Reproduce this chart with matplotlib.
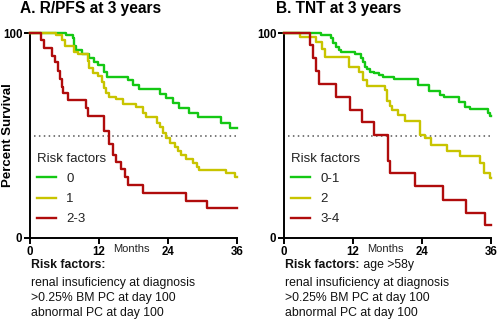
import numpy as np
import matplotlib
matplotlib.use("Agg")
import matplotlib.pyplot as plt

plt.rcParams['font.family'] = ['Liberation Sans', 'DejaVu Sans']

# Kaplan-Meier step points: (month of drop, percent after drop)
a_green_t = [6.2, 7.4, 7.7, 8.0, 9.0, 10.3, 11.2, 11.9, 12.8, 13.4, 17.0, 17.9, 18.9,
             22.6, 23.6, 24.9, 25.9, 27.7, 29.3, 33.2, 34.7]
a_green_v = [99, 97.4, 93.8, 91.7, 90, 88, 85.7, 84.4, 81.2, 78.7, 77, 74.6, 72.5,
             70.2, 68.1, 65.7, 63.6, 61.1, 58.9, 56.3, 53.8]

a_yellow_t = [4.5, 5.5, 6.1, 7.7, 8.3, 10.0, 10.3, 10.9, 11.8, 12.5, 12.9, 13.2, 13.8,
              15.0, 16.1, 18.5, 19.6, 20.2, 22.0, 22.6, 23.1, 23.6, 24.3, 25.2, 25.8,
              26.3, 27.2, 28.4, 29.0, 29.4, 34.0, 35.7]
a_yellow_v = [99, 96.5, 93.8, 90.6, 89.6, 86.3, 83, 80.3, 79.2, 76.3, 73, 70.6, 68.9,
              67.7, 65.4, 63.8, 60.8, 58.9, 56.3, 54.3, 51.1, 48.6, 46.5, 44.2, 42.6,
              40.5, 38.5, 36.4, 34.8, 33.2, 31.6, 29.6]

a_red_t = [1.9, 2.4, 3.9, 4.4, 4.9, 5.2, 5.5, 5.8, 6.6, 9.7, 10.0, 12.8, 13.8, 14.4,
           15.0, 15.9, 16.6, 17.0, 19.6, 27.1, 30.7]
a_red_v = [96.5, 92.7, 88.7, 86, 81.5, 77.7, 73.9, 70.6, 67.2, 63.5, 59.6, 52, 46,
           40.5, 37, 33.5, 29.6, 26, 22, 18.2, 14.5]

b_green_t = [6.4, 8.2, 8.6, 9.0, 9.5, 9.9, 12.4, 13.4, 13.7, 14.0, 14.4, 15.0, 15.7,
             16.6, 17.2, 19.1, 23.3, 25.2, 27.1, 27.8, 30.4, 31.5, 32.3, 35.5, 35.9]
b_green_v = [99, 97.7, 95, 93.3, 91.7, 90.9, 89.6, 87.6, 85.7, 83.6, 82.4, 81.1, 80.3,
             79.5, 78.7, 77.4, 74.6, 71.7, 69.8, 68.9, 66.5, 64, 62.8, 60.8, 59.5]

b_yellow_t = [2.7, 5.5, 6.6, 7.2, 11.3, 13.1, 13.8, 14.4, 17.6, 17.9, 18.4, 18.8, 19.8,
              21.0, 23.7, 24.5, 25.6, 28.3, 30.6, 34.1, 34.7, 35.8]
b_yellow_v = [98, 95.5, 92, 88.2, 83.6, 81.1, 77, 74, 72, 67, 64.5, 62.2, 59.8,
              57.3, 50.2, 48.6, 45.4, 42.6, 40, 36.4, 31.9, 29.1]

b_red_t = [4.5, 5.1, 5.5, 6.1, 9.0, 11.4, 13.5, 15.6, 18.1, 18.4, 22.7, 27.6, 31.6, 35.0]
b_red_v = [94, 87.6, 81.6, 75.3, 68.8, 62.6, 56.5, 50.2, 37.5, 31.6, 25.5, 18.7, 12.3, 6.3]

panel_titles = ["A. R/PFS at 3 years", "B. TNT at 3 years"]
legend_labels = [["0", "1", "2-3"], ["0-1", "2", "3-4"]]
x_ticks = [0, 12, 24, 36]
y_ticks = [0, 100]
footnote_lines = ["renal insuficiency at diagnosis", ">0.25% BM PC at day 100",
                  "abnormal PC at day 100"]
footnote_extra = ["", " age >58y"]

colors = ['#14c814', '#c8c400', '#b00c0c']

fig = plt.figure(figsize=(5.0, 3.31), dpi=100)
ax_a = fig.add_axes([30 / 500, 93 / 331, 207 / 500, 205 / 331])
ax_b = fig.add_axes([284 / 500, 93 / 331, 207 / 500, 205 / 331])

panels = [
    (ax_a, [(a_green_t, a_green_v), (a_yellow_t, a_yellow_v), (a_red_t, a_red_v)]),
    (ax_b, [(b_green_t, b_green_v), (b_yellow_t, b_yellow_v), (b_red_t, b_red_v)]),
]


def km_line(ax, t, v, color, label):
    xs = [0] + list(t) + [36]
    ys = [100] + list(v) + [v[-1]]
    line, = ax.step(xs, ys, where='post', color=color, lw=1.7, label=label,
                    clip_on=False, zorder=3)
    return line


for i, (ax, series) in enumerate(panels):
    handles = []
    for (t, v), c, lab in zip(series, colors, legend_labels[i]):
        handles.append(km_line(ax, t, v, c, lab))

    ax.axhline(50, xmin=0.02, xmax=1, color='#555555', lw=1.1, ls=(0, (1, 2.2)), zorder=1)

    ax.set_xlim(0, 36)
    ax.set_ylim(0, 100)
    ax.spines['top'].set_visible(False)
    ax.spines['right'].set_visible(False)
    for s in ['left', 'bottom']:
        ax.spines[s].set_linewidth(1.4)
        ax.spines[s].set_color('black')
    ax.set_xticks(x_ticks)
    ax.set_yticks(y_ticks)
    ax.tick_params(direction='out', length=4, width=1.4, labelsize=8.3, pad=1.5)
    for lab in ax.get_xticklabels() + ax.get_yticklabels():
        lab.set_fontweight('bold')

    ax.set_xlabel('Months', fontsize=8, color='#222222', va='center')
    ax.xaxis.set_label_coords(17.7 / 36, -10.5 / 205)

    leg = ax.legend(handles=handles, title='Risk factors', loc='upper left',
                    bbox_to_anchor=(0.035, 0.415), frameon=False, fontsize=9.5,
                    title_fontsize=9.5, alignment='left', handlelength=1.45,
                    handletextpad=0.75, labelspacing=0.6, borderpad=0,
                    borderaxespad=0)
    leg.get_title().set_color('#222222')
    for txt in leg.get_texts():
        txt.set_color('#222222')

    fig.text([20 / 500, 276 / 500][i], 1 - 12.5 / 331, panel_titles[i],
             fontsize=11.2, fontweight='bold', va='baseline', ha='left')

    x0 = [31 / 500, 285 / 500][i]
    head = fig.text(x0, 1 - 265 / 331, "Risk factors:", fontsize=8.8,
                    fontweight='bold', va='center', ha='left', color='#111111')
    if footnote_extra[i]:
        fig.canvas.draw()
        bb = head.get_window_extent()
        fig.text(bb.x1 / 500, 1 - 265 / 331, footnote_extra[i], fontsize=8.8,
                 va='center', ha='left', color='#111111')
    for j, line in enumerate(footnote_lines):
        fig.text(x0, 1 - (282.7 + 15 * j) / 331, line, fontsize=8.8,
                 va='center', ha='left', color='#111111')

ax_a.set_ylabel('Percent Survival', fontsize=9.5, fontweight='bold', va='center')
ax_a.yaxis.set_label_coords(-22 / 207, 0.5)

fig.savefig('out.png', dpi=100)
